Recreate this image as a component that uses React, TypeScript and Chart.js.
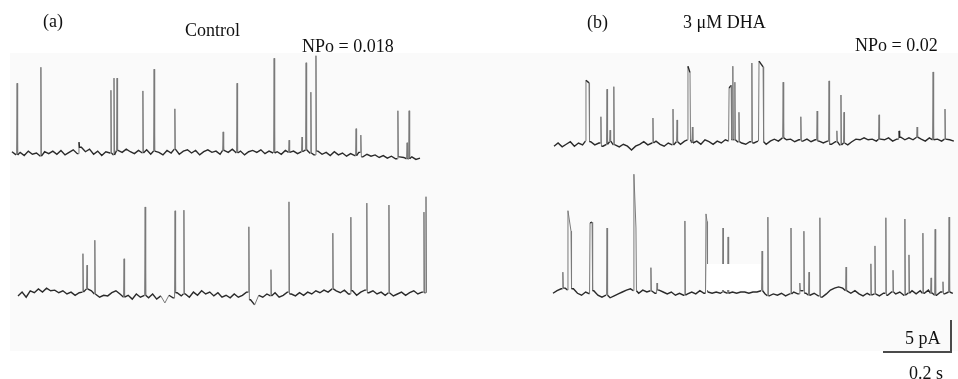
import React, { useEffect, useRef } from "react";
import { Chart, registerables } from "chart.js";

Chart.register(...registerables);

// ---- geometry / units ----
const W = 958;
const H = 379;
const PX_PER_S = 340; // 0.2 s scale bar = 68 px
const PX_PER_PA = 6.4; // 5 pA scale bar = 32 px
const X_MAX_S = W / PX_PER_S;
const Y_MIN_PA = -H / PX_PER_PA;
const SAMPLE_DT = 0.012; // s between baseline samples

// ---- data: baseline current (pA, relative to closed level), sampled every SAMPLE_DT ----
const controlTopBase = [
  0.2, -0.3, 0.1, -0.4, 0.3, -0.2, 0.0, -0.5, 0.2, -0.1,
  0.3, -0.2, 0.4, -0.3, 0.1, 0.5, -0.1, 0.9, 0.2, 0.6,
  -0.2, 0.3, -0.4, 0.2, 0.0, -0.3, 0.4, 0.1, 0.6, 0.2,
  -0.1, 0.4, 0.0, 0.5, -0.2, 0.3, 0.1, -0.3, 0.4, 0.0,
  0.6, -0.2, 0.3, 0.5, 0.0, 0.4, -0.3, 0.2, 0.5, 0.1,
  0.3, -0.2, 0.4, 0.1, 0.6, 0.0, 0.3, -0.3, 0.2, 0.4,
  0.1, 0.5, -0.1, 0.3, 0.0, 0.2, -0.2, 0.4, 0.1, 0.3,
  -0.1, 0.2, 0.5, 0.0, -0.3, 0.3, -0.2, 0.1, -0.4, 0.2,
  -0.3, 0.0, -0.5, -0.1, -0.4, 0.1, -0.6, -0.2, -0.5, -0.3,
  -0.7, -0.4, -0.8, -0.5, -0.9, -0.6, -0.7, -0.9, -0.6, -1.0, -0.8,
];
const controlBottomBase = [
  -0.3, 0.3, -0.5, 0.5, 0.2, 0.8, 0.3, 0.9, 0.5, 0.6,
  0.2, 0.5, 0.0, 0.3, -0.2, 0.2, 0.3, 0.8, 0.5, 0.0,
  -0.5, -0.2, -0.3, 0.2, 0.5, 0.0, -0.5, -0.2, -0.8, 0.0,
  -0.5, -0.2, -0.6, 0.0, -0.8, -0.3, -1.4, -0.2, -0.6, 0.2,
  -0.3, 0.0, -0.5, 0.3, -0.2, 0.5, 0.0, 0.3, -0.3, 0.2,
  -0.5, -0.2, -0.6, 0.0, -0.5, -0.2, 0.3, -0.9, -1.7, -0.2,
  -0.5, 0.0, -0.3, 0.2, -0.5, -0.2, 0.3, 0.0, -0.3, 0.2,
  -0.2, 0.3, 0.0, 0.5, 0.2, 0.6, 0.3, 0.8, 0.5, 0.2,
  0.6, 0.0, 0.5, -0.2, 0.3, 0.6, 0.2, 0.5, 0.0, 0.3,
  -0.2, 0.2, -0.3, 0.0, 0.3, -0.2, 0.2, 0.5, 0.0, 0.3, 0.2,
];
const dhaTopBase = [
  -0.5, 0.0, -0.6, -0.2, 0.2, -0.5, 0.0, -0.3, 0.3, 0.2,
  -0.3, 0.0, -0.5, -0.2, 0.2, -0.3, -0.6, -0.2, -0.5, -1.1,
  -0.5, -0.2, 0.2, -0.3, 0.0, 0.3, -0.2, -0.5, 0.0, -0.3,
  0.2, -0.2, 0.3, 0.5, 0.0, 0.3, -0.2, 0.5, 0.2, -0.2,
  0.3, 0.0, 0.5, 0.3, 0.5, 0.2, 0.0, -0.2, 0.2, 0.0,
  0.3, 0.2, -0.2, 0.3, 0.6, 0.3, 0.8, 0.5, 0.6, 0.2,
  0.5, 0.3, 0.6, 0.2, 0.5, 0.3, 0.0, 0.3, -0.2, 0.2,
  -0.3, 0.0, -0.3, 0.2, 0.6, 0.5, 0.8, 0.5, 0.6, 0.3,
  0.6, 0.5, 0.8, 0.3, 0.6, 0.9, 0.5, 0.8, 0.5, 0.9,
  0.6, 0.3, 0.8, 0.5, 0.6, 0.3, 0.6, 0.5, 0.3,
];
const dhaBottomBase = [
  -0.2, 0.2, 0.5, 0.6, 0.3, 0.5, -0.2, -0.5, 0.0, -0.3,
  0.2, -0.5, -0.8, -0.5, -0.9, -0.6, -0.3, 0.0, 0.3, 0.5,
  0.2, -0.2, 0.3, 0.0, 0.2, -0.2, 0.3, 0.0, -0.3, 0.0,
  -0.5, -0.2, -0.5, -0.3, 0.0, -0.3, 0.2, -0.2, 0.0, -0.2,
  0.0, -0.2, 0.0, -0.2, 0.0, -0.2, 0.0, 0.0, -0.2, 0.0,
  0.0, 0.2, -0.3, -0.6, -0.3, -0.5, -0.2, -0.6, -0.3, 0.0,
  -0.3, 0.2, -0.2, -0.5, -0.2, -0.6, -0.8, -0.3, 0.3, 0.6,
  0.8, 0.6, 0.2, -0.2, 0.2, -0.3, -0.6, -0.2, -0.5, -0.3,
  -0.6, -0.2, -0.5, 0.0, -0.3, 0.0, -0.5, -0.2, 0.2, -0.3,
  0.2, -0.2, 0.3, -0.2, -0.5, 0.0, -0.3, 0.0, -0.2,
];

// ---- data: channel openings [time s, peak pA, open duration s, end pA] ----
const controlTopEvents = [
  [0.015, 10.9], [0.085, 13.4], [0.197, 1.7], [0.291, 9.8], [0.300, 11.7],
  [0.309, 11.7], [0.385, 9.7], [0.418, 13.1], [0.479, 6.9], [0.621, 3.3],
  [0.662, 10.9], [0.771, 14.8], [0.815, 2.0], [0.853, 2.5], [0.865, 14.1],
  [0.879, 9.5], [0.894, 15.2], [1.012, 3.8], [1.026, 2.8], [1.135, 6.6],
  [1.162, 1.6], [1.168, 6.6],
];
const controlBottomEvents = [
  [0.191, 6.3], [0.203, 4.5], [0.226, 8.4], [0.312, 5.5], [0.374, 13.6],
  [0.462, 13.0], [0.488, 13.1], [0.679, 10.5], [0.744, 3.8], [0.797, 14.4],
  [0.926, 9.5], [0.979, 12.0], [1.026, 14.2], [1.091, 13.9], [1.194, 12.8],
  [1.200, 15.2],
];
const dhaTopEvents = [
  [0.094, 9.8, 0.009, 9.4], [0.138, 4.1], [0.156, 8.4], [0.165, 2.0], [0.176, 8.8],
  [0.291, 3.9], [0.350, 5.3], [0.362, 3.6], [0.394, 12.0, 0.006, 11.0], [0.407, 2.5],
  [0.515, 8.6, 0.006, 9.0], [0.526, 12.0], [0.532, 9.5], [0.544, 4.8], [0.582, 12.5],
  [0.603, 12.8, 0.012, 11.9], [0.674, 9.5], [0.726, 4.1], [0.774, 5.0], [0.809, 9.7],
  [0.832, 1.9], [0.844, 7.5], [0.853, 4.8], [0.956, 4.4], [1.015, 1.9],
  [1.068, 2.5], [1.115, 11.1], [1.150, 5.3],
];
const dhaBottomEvents = [
  [0.029, 3.1], [0.044, 12.7, 0.009, 9.5], [0.109, 10.8, 0.006, 10.9], [0.159, 10.0],
  [0.238, 18.4, 0.006, 10.0], [0.288, 3.8], [0.306, 1.4], [0.388, 11.1],
  [0.450, 12.2, 0.003, 11.0], [0.500, 10.0], [0.515, 8.6], [0.615, 6.4], [0.632, 11.7],
  [0.700, 10.0], [0.726, 1.4], [0.738, 9.5], [0.753, 3.1], [0.785, 11.6],
  [0.862, 3.9], [0.935, 4.4], [0.947, 7.2], [0.979, 11.6], [1.000, 3.4],
  [1.035, 11.4], [1.047, 5.8], [1.088, 9.2], [1.112, 2.2], [1.124, 9.8],
  [1.147, 1.6], [1.165, 11.7],
];

// ---- scale bar values ----
const SCALE_TIME_S = 0.2;
const SCALE_CURRENT_PA = 5;

// ---- labels ----
const panelLabels = ["(a)", "(b)"];
const conditionLabels = ["Control", "3 μM DHA"];
const npoLabels = ["NPo = 0.018", "NPo = 0.02"];

type Pt = { x: number; y: number };

function buildTrace(base: number[], events: number[][], x0: number, y0: number): Pt[] {
  const D = 0.0015;
  const nearest = (t: number) =>
    base[Math.min(base.length - 1, Math.max(0, Math.round(t / SAMPLE_DT)))];
  const spans = events.map((e) => [e[0] - D, e[0] + (e[2] || 0) + D]);
  const pts: Pt[] = [];
  base.forEach((v, i) => {
    const t = i * SAMPLE_DT;
    if (spans.some(([a, b]) => t >= a && t <= b)) return;
    pts.push({ x: t, y: v });
  });
  events.forEach((e) => {
    const t = e[0];
    const a = e[1];
    const dur = e[2] || 0;
    const a2 = e[3] !== undefined ? e[3] : a;
    pts.push({ x: t - D, y: nearest(t - D) });
    pts.push({ x: t, y: a });
    if (dur > 0) pts.push({ x: t + dur, y: a2 });
    pts.push({ x: t + dur + D, y: nearest(t + dur + D) });
  });
  pts.sort((p, q) => p.x - q.x);
  return pts.map((p) => ({ x: x0 + p.x, y: y0 + p.y }));
}

const pxX = (px: number) => px / PX_PER_S;
const pxY = (px: number) => -px / PX_PER_PA;

const bgPlugin = {
  id: "bg",
  beforeDraw(chart: any) {
    const { ctx } = chart;
    ctx.save();
    ctx.fillStyle = "#ffffff";
    ctx.fillRect(0, 0, W, H);
    ctx.fillStyle = "#fafafa";
    ctx.fillRect(10, 53, W - 10, 298);
    ctx.restore();
  },
  afterDatasetsDraw(chart: any) {
    const { ctx } = chart;
    ctx.save();
    ctx.fillStyle = "#ffffff";
    ctx.fillRect(707, 264, 54, 26);
    ctx.restore();
  },
  afterDraw(chart: any) {
    const { ctx } = chart;
    ctx.save();
    ctx.fillStyle = "#111111";
    ctx.font = '18px "Liberation Serif", "Times New Roman", serif';
    ctx.textAlign = "left";
    ctx.textBaseline = "alphabetic";
    ctx.fillText(panelLabels[0], 43, 27);
    ctx.fillText(conditionLabels[0], 185, 36);
    ctx.fillText(npoLabels[0], 302, 52);
    ctx.fillText(panelLabels[1], 587, 28);
    ctx.fillText(conditionLabels[1], 683, 28);
    ctx.fillText(npoLabels[1], 855, 51);
    ctx.fillText(`${SCALE_CURRENT_PA} pA`, 905, 344);
    ctx.fillText(`${SCALE_TIME_S} s`, 909, 379);
    ctx.restore();
  },
};

const segColor = (c: any) =>
  Math.abs(c.p1.y - c.p0.y) > 7 ? "#7a7a7a" : "#2a2a2a";
const segWidth = (c: any) => (Math.abs(c.p1.y - c.p0.y) > 7 ? 1 : 1.4);

export default function App() {
  const ref = useRef<HTMLCanvasElement | null>(null);
  useEffect(() => {
    if (!ref.current) return;
    const traces = [
      buildTrace(controlTopBase, controlTopEvents, pxX(12), pxY(153)),
      buildTrace(controlBottomBase, controlBottomEvents, pxX(18), pxY(294)),
      buildTrace(dhaTopBase, dhaTopEvents, pxX(554), pxY(143)),
      buildTrace(dhaBottomBase, dhaBottomEvents, pxX(553), pxY(292)),
    ];
    const barX1 = pxX(951);
    const barX0 = barX1 - SCALE_TIME_S;
    const barY0 = pxY(352);
    const scaleBar = [
      { x: barX0, y: barY0 },
      { x: barX1, y: barY0 },
      { x: barX1, y: barY0 + SCALE_CURRENT_PA },
    ];
    const chart = new Chart(ref.current, {
      type: "line",
      data: {
        datasets: [
          ...traces.map((d) => ({
            data: d,
            borderColor: "#2a2a2a",
            borderWidth: 1.3,
            pointRadius: 0,
            tension: 0,
            segment: { borderColor: segColor, borderWidth: segWidth },
          })),
          {
            data: scaleBar,
            borderColor: "#4a4a4a",
            borderWidth: 2,
            pointRadius: 0,
            tension: 0,
          },
        ],
      },
      options: {
        animation: false,
        responsive: false,
        maintainAspectRatio: false,
        parsing: false,
        events: [],
        layout: { padding: 0 },
        plugins: {
          legend: { display: false },
          tooltip: { enabled: false },
          title: { display: false },
        },
        scales: {
          x: { type: "linear", min: 0, max: X_MAX_S, display: false },
          y: { type: "linear", min: Y_MIN_PA, max: 0, display: false },
        },
      } as any,
      plugins: [bgPlugin],
    });
    return () => chart.destroy();
  }, []);
  return (
    <div style={{ position: "fixed", left: 0, top: 0, width: W, height: H }}>
      <canvas ref={ref} width={W} height={H} style={{ display: "block" }} />
    </div>
  );
}
